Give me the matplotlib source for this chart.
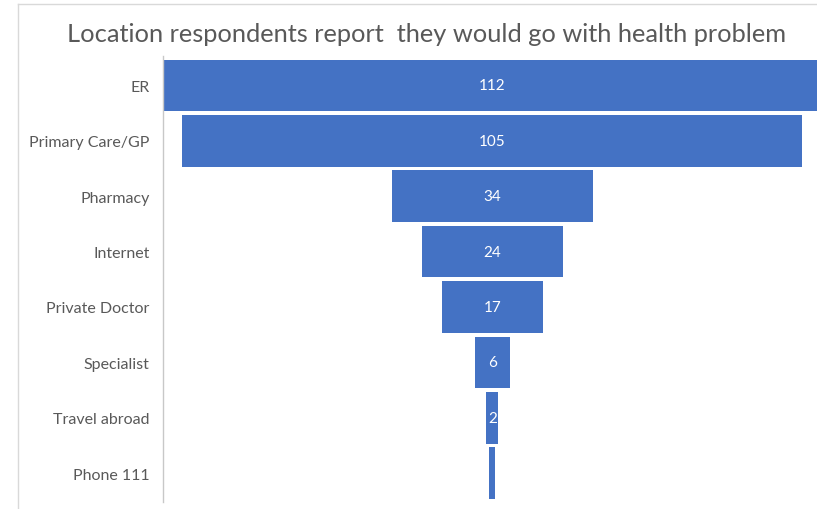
import matplotlib.pyplot as plt
from matplotlib.lines import Line2D

categories = ["ER", "Primary Care/GP", "Pharmacy", "Internet", "Private Doctor",
              "Specialist", "Travel abroad", "Phone 111"]
counts = [112, 105, 34, 24, 17, 6, 2, 1]
shown_labels = ["112", "105", "34", "24", "17", "6", "2", ""]

W, H = 817, 510
fig = plt.figure(figsize=(W / 100, H / 100), dpi=100)
fig.patch.set_facecolor("white")

font = "Lato"
grey = "#595959"
blue = "#4472C4"

# plot area: left edge at the category axis, running off the right side
ax = fig.add_axes([163 / W, 1 - 503 / H, (W - 163) / W, (503 - 57) / H])
ax.set_xlim(-55.8, 55.0)
n = len(categories)
ax.set_ylim(n - 0.5 + 0.02, -0.5 - 0.03)

for i, (v, lab) in enumerate(zip(counts, shown_labels)):
    ax.barh(i, v, left=-v / 2, height=0.93, color=blue, edgecolor="none")
    if lab:
        ax.text(0, i, lab, ha="center", va="center", color="white",
                fontsize=11, family=font)

ax.set_yticks(range(n))
ax.set_yticklabels(categories, fontsize=11.5, color=grey, family=font)
ax.tick_params(axis="y", length=0, pad=9.5)
ax.set_xticks([])
for s in ["top", "right", "bottom"]:
    ax.spines[s].set_visible(False)
ax.spines["left"].set_color("#c8c8c8")
ax.spines["left"].set_linewidth(1.0)

fig.text(427 / W, 1 - 34 / H,
         "Location respondents report  they would go with health problem",
         ha="center", va="center", fontsize=18.3, color=grey, family=font)

# outer chart frame edges
fig.add_artist(Line2D([18 / W, 18 / W], [0, 1 - 5 / H], color="#d9d9d9", lw=1))
fig.add_artist(Line2D([18 / W, 1], [1 - 5 / H, 1 - 5 / H], color="#d9d9d9", lw=1))

fig.savefig("out.png", dpi=100)
